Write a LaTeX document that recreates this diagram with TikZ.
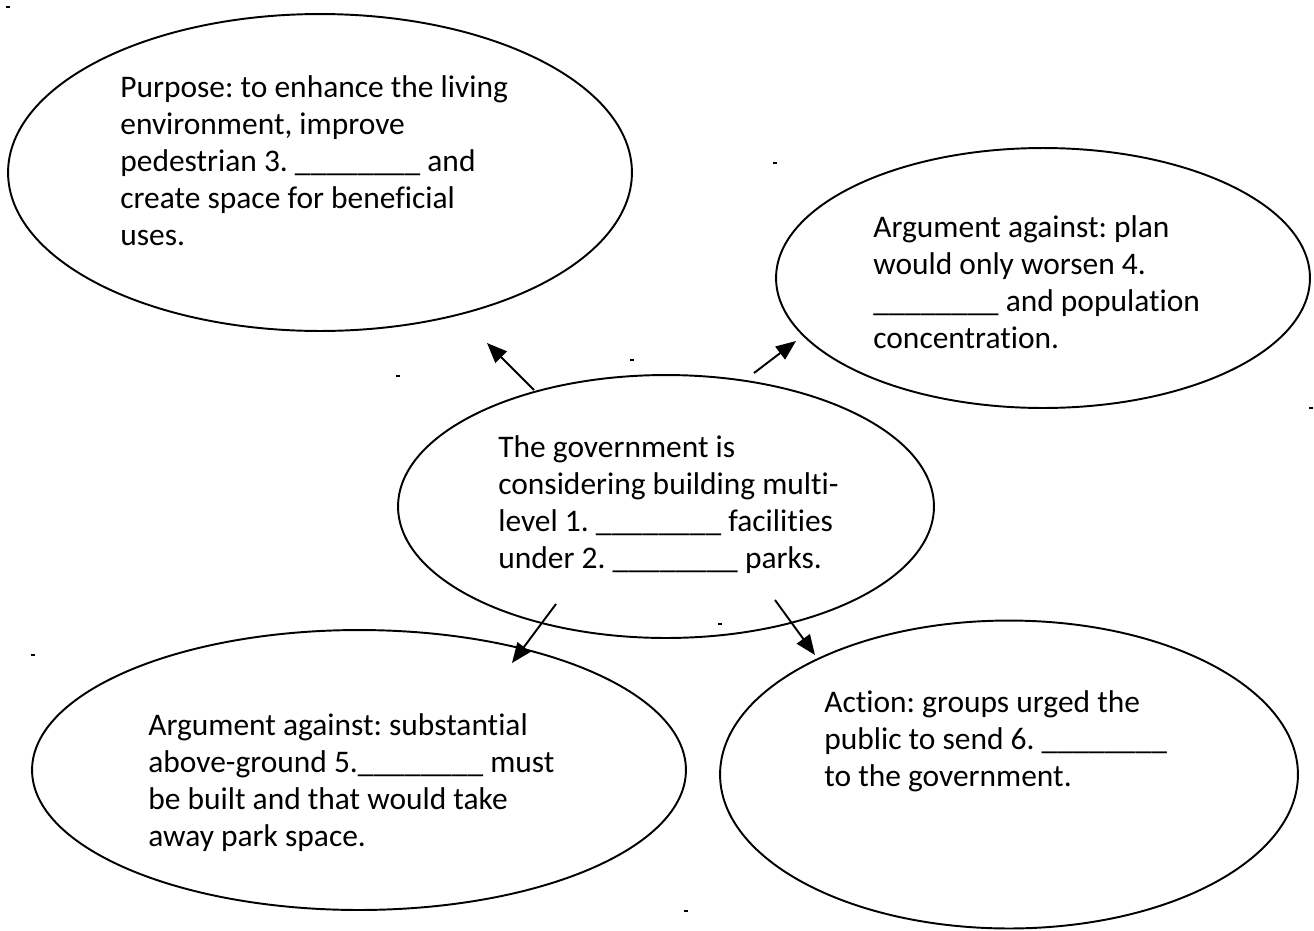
\documentclass[tikz,border=0pt]{standalone}
\usepackage{fontspec}
\setmainfont{Carlito}[RawFeature={-liga;-clig;-dlig}]
\usetikzlibrary{arrows.meta}
\usetikzlibrary{shapes.geometric}
\usetikzlibrary{calc}
\newcommand{\blank}{\_\_\_\_\_\_\_\_}
\frenchspacing

\begin{document}
\begin{tikzpicture}[x=0.02cm,y=-0.02cm]
\tikzstyle{bubble}=[draw,ellipse,line width=1.1pt,inner sep=0pt]
\tikzstyle{words}=[align=left,anchor=base west,inner sep=0pt,font=\fontsize{17.9}{21}\selectfont]
\tikzstyle{link}=[line width=1.1pt,-{Triangle[length=0.4cm,width=0.32cm]}]
\tikzstyle{speck}=[fill,draw=none,minimum width=0.07cm,minimum height=0.05cm,inner sep=0pt]
\useasboundingbox (0,0) rectangle (1314,930);
% the five bubbles
\node [bubble, minimum width=12.48cm, minimum height=6.34cm] (purpose) at (320,172.5) {};
\node [bubble, minimum width=10.68cm, minimum height=5.2cm] (worsen) at (1043,278) {};
\node [bubble, minimum width=10.72cm, minimum height=5.26cm] (govt) at (666,506.5) {};
\node [bubble, minimum width=13.08cm, minimum height=5.6cm] (vents) at (359,770) {};
\node [bubble, minimum width=11.56cm, minimum height=6.16cm] (action) at (1009,774.5) {};
% texts (placed by the baseline of their last line)
\node [words] (purposetext) at (120,245) {Purpose: to enhance the living\\environment, improve\\pedestrian 3. \blank{} and\\create space for beneficial\\uses.};
\node [words] (worsentext) at (873,348) {Argument against: plan\\would only worsen 4.\\\blank{} and population\\concentration.};
\node [words] (govttext) at (498,568) {The government is\\considering building multi-\\level 1. \blank{} facilities\\under 2. \blank{} parks.};
\node [words] (ventstext) at (148,846) {Argument against: substantial\\above-ground 5.\blank{} must\\be built and that would take\\away park space.};
\node [words] (actiontext) at (824,786) {Action: groups urged the\\public to send 6. \blank{}\\to the government.};
% arrows
\coordinate (s1) at (534,390);
\coordinate (t1) at (487,343);
\coordinate (s2) at (754,373);
\coordinate (t2) at (796,341);
\coordinate (s3) at (556,604);
\coordinate (t3) at (512,663);
\coordinate (s4) at (775,600);
\coordinate (t4) at (815,655);
\draw [link] (s1) -- (t1);
\draw [link] (s2) -- (t2);
\draw [link] (s3) -- (t3);
\draw [link] (s4) -- (t4);
% stray specks
\foreach \p [count=\i] in {(8,7),(775,163),(632,360),(398,376),(1311,408),(33,655),(720,624),(686,911)}
  \node [speck] (speck\i) at \p {};
\end{tikzpicture}
\end{document}
